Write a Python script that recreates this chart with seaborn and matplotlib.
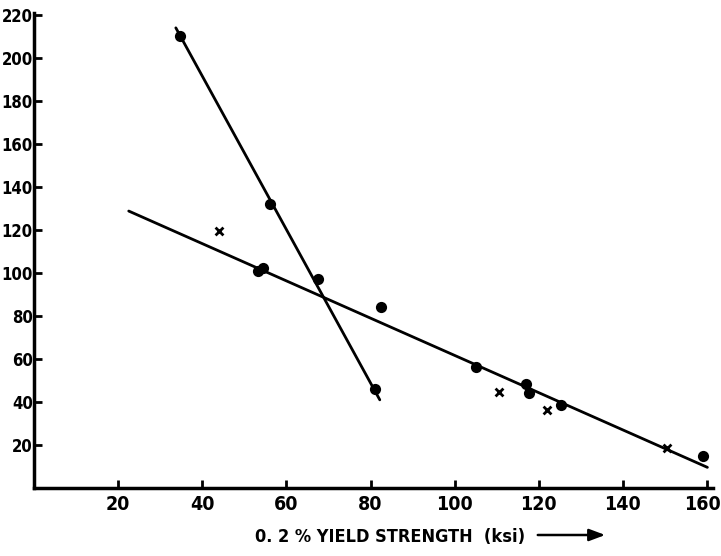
import matplotlib
matplotlib.use("Agg")
import matplotlib.pyplot as plt
import matplotlib.transforms as mtransforms
import seaborn as sns
import pandas as pd

# values
circle_yield = [34.8, 56.1, 53.3, 54.5, 67.6, 82.6, 81.1, 105.0, 116.9, 117.6, 125.4, 159.0]
circle_value = [210.0, 132.0, 101.0, 102.5, 97.0, 84.2, 46.0, 56.1, 48.4, 44.0, 38.6, 14.9]
cross_yield = [44.0, 110.6, 122.0, 150.4]
cross_value = [119.5, 44.8, 36.3, 18.7]

# the two hand-drawn trend lines (end points)
steep_yield = [33.7, 82.2]
steep_value = [214.0, 41.0]
shallow_yield = [22.5, 160.1]
shallow_value = [128.8, 9.6]

x_ticks = [20, 40, 60, 80, 100, 120, 140, 160]
y_ticks = [20, 40, 60, 80, 100, 120, 140, 160, 180, 200, 220]
x_label = "0. 2 % YIELD STRENGTH  (ksi)"

sns.set_style("ticks")
plt.rcParams["font.family"] = ["DejaVu Sans"]
plt.rcParams["font.stretch"] = "condensed"
plt.rcParams["font.weight"] = "bold"
plt.rcParams["text.color"] = "black"

circles = pd.DataFrame({"x": circle_yield, "y": circle_value})
crosses = pd.DataFrame({"x": cross_yield, "y": cross_value})
steep = pd.DataFrame({"x": steep_yield, "y": steep_value})
shallow = pd.DataFrame({"x": shallow_yield, "y": shallow_value})

fig = plt.figure(figsize=(7.21, 5.56), dpi=100)
ax = fig.add_axes([0.0473, 0.1223, 0.942, 0.8547])

sns.lineplot(data=steep, x="x", y="y", sort=False, color="black", linewidth=2.0, ax=ax)
sns.lineplot(data=shallow, x="x", y="y", sort=False, color="black", linewidth=2.0, ax=ax)
sns.scatterplot(data=circles, x="x", y="y", marker="o", s=65, color="black",
                edgecolor="black", linewidth=0, ax=ax, zorder=3)
sns.scatterplot(data=crosses, x="x", y="y", marker="x", s=32, color="black",
                linewidth=2.0, ax=ax, zorder=3)

ax.set_xlim(0, 161.5)
ax.set_ylim(0, 221)
ax.set_xticks(x_ticks)
ax.set_yticks(y_ticks)
ax.set_xticklabels([str(t) for t in x_ticks], fontsize=14, fontweight="bold")
ax.set_yticklabels([str(t) for t in y_ticks], fontsize=12, fontweight="bold")
ax.tick_params(direction="in", length=6, width=2, colors="black")
ax.tick_params(axis="x", pad=5)
ax.tick_params(axis="y", pad=1)
ax.set_xlabel("")
ax.set_ylabel("")
for side in ["top", "right"]:
    ax.spines[side].set_visible(False)
for side in ["left", "bottom"]:
    ax.spines[side].set_linewidth(2.5)
    ax.spines[side].set_color("black")

# keep the last x label inside the picture
last = ax.get_xticklabels()[-1]
last.set_transform(last.get_transform() +
                   mtransforms.ScaledTranslation(-3 / 72, 0, fig.dpi_scale_trans))

fig.text(255 / 721, 1 - 537 / 556, x_label, fontsize=13, fontweight="bold",
         color="black", ha="left", va="center")
fig.add_artist(matplotlib.patches.FancyArrowPatch(
    (535 / 721, 1 - 535 / 556), (608 / 721, 1 - 535 / 556),
    transform=fig.transFigure, arrowstyle="-|>,head_length=0.8,head_width=0.3",
    color="black", linewidth=1.8, mutation_scale=12))

fig.savefig("out.png", dpi=100)
